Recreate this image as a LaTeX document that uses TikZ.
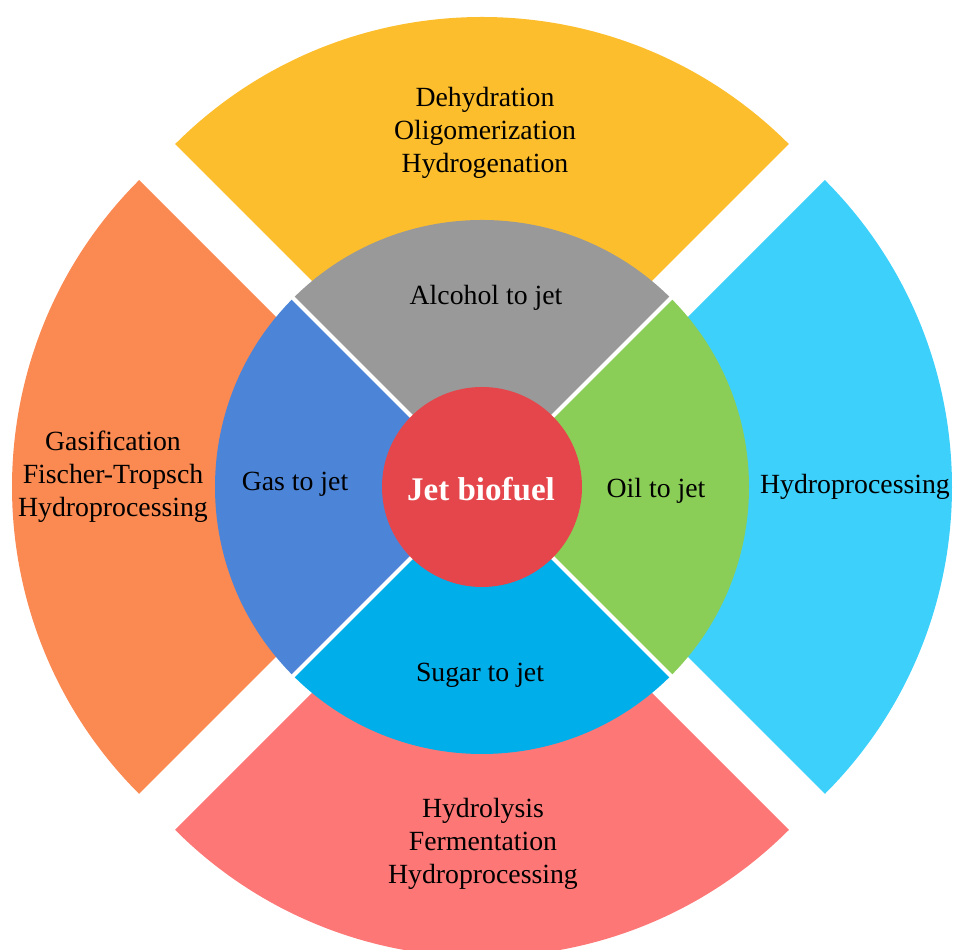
\documentclass[tikz,border=0pt]{standalone}
\usepackage{fontspec}
\setmainfont{Liberation Serif}
\usepackage{tikz}
\usetikzlibrary{positioning}

\definecolor{alcoholout}{RGB}{252,190,44}
\definecolor{gasout}{RGB}{250,137,82}
\definecolor{oilout}{RGB}{60,208,250}
\definecolor{sugarout}{RGB}{254,119,119}
\definecolor{alcoholin}{RGB}{153,153,153}
\definecolor{gasin}{RGB}{76,132,216}
\definecolor{oilin}{RGB}{139,206,87}
\definecolor{sugarin}{RGB}{0,174,234}
\definecolor{hub}{RGB}{229,70,75}

\tikzset{
	steps/.style={align=center, font=\fontsize{7.9}{9.4}\selectfont, inner sep=0pt},
	route/.style={font=\fontsize{7.9}{9.4}\selectfont, inner sep=0pt},
	hubtext/.style={font=\fontsize{9.4}{11}\selectfont\bfseries, text=white, inner sep=0pt},
	gap/.style={draw=white, line width=0.04cm}
}

\begin{document}
\begin{tikzpicture}
		\useasboundingbox (0, 0) rectangle (9.55, 9.50);
		\clip (0, 0) rectangle (9.55, 9.50);

		% outer ring, each piece pushed out from the middle
		\fill[alcoholout] (4.82, 4.99) -- ++(45:4.34) arc[start angle=45, end angle=135, radius=4.34] -- cycle;
		\fill[gasout] (4.46, 4.63) -- ++(135:4.34) arc[start angle=135, end angle=225, radius=4.34] -- cycle;
		\fill[sugarout] (4.82, 4.27) -- ++(225:4.34) arc[start angle=225, end angle=315, radius=4.34] -- cycle;
		\fill[oilout] (5.18, 4.63) -- ++(-45:4.34) arc[start angle=-45, end angle=45, radius=4.34] -- cycle;

		% inner ring
		\coordinate (c) at (4.82, 4.63);
		\fill[alcoholin] (c) -- ++(45:2.67) arc[start angle=45, end angle=135, radius=2.67] -- cycle;
		\fill[gasin] (c) -- ++(135:2.67) arc[start angle=135, end angle=225, radius=2.67] -- cycle;
		\fill[sugarin] (c) -- ++(225:2.67) arc[start angle=225, end angle=315, radius=2.67] -- cycle;
		\fill[oilin] (c) -- ++(-45:2.67) arc[start angle=-45, end angle=45, radius=2.67] -- cycle;
		\draw[gap] (c) -- ++(45:2.72);
		\draw[gap] (c) -- ++(135:2.72);
		\draw[gap] (c) -- ++(225:2.72);
		\draw[gap] (c) -- ++(315:2.72);

		% hub
		\node[circle, fill=hub, minimum size=2.0cm, inner sep=0pt] (hub) at (c) {};
		\node[hubtext] (jet) at (4.81, 4.61) {Jet biofuel};

		\node[route] (alcohol) at (4.86, 6.52) {Alcohol to jet};
		\node[route] (gas) at (2.95, 4.66) {Gas to jet};
		\node[route] (oil) at (6.56, 4.59) {Oil to jet};
		\node[route] (sugar) at (4.80, 2.75) {Sugar to jet};

		\node[steps] (alcoholsteps) at (4.85, 8.17) {Dehydration\\Oligomerization\\Hydrogenation};
		\node[steps] (gassteps) at (1.13, 4.73) {Gasification\\Fischer-Tropsch\\Hydroprocessing};
		\node[steps] (oilsteps) at (8.55, 4.63) {Hydroprocessing};
		\node[steps] (sugarsteps) at (4.83, 1.06) {Hydrolysis\\Fermentation\\Hydroprocessing};
\end{tikzpicture}
\end{document}
